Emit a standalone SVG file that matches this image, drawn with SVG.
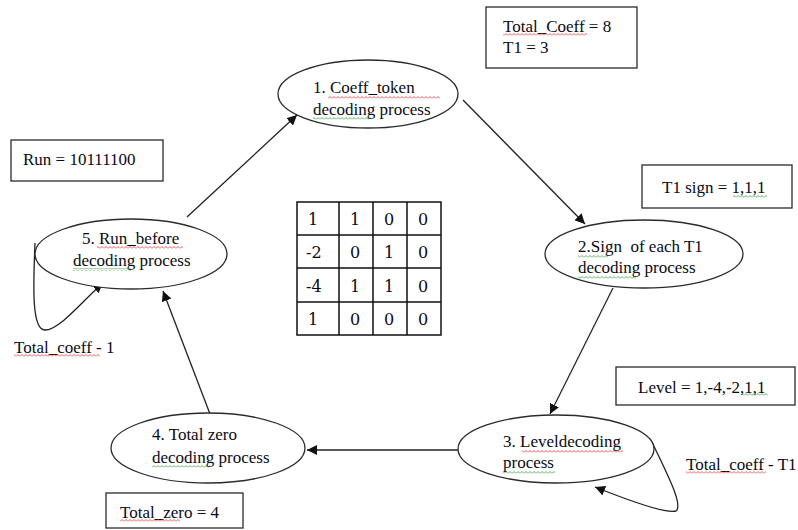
<svg xmlns="http://www.w3.org/2000/svg" width="798" height="530" viewBox="0 0 798 530">
  <style>
    .node { fill: #fff; stroke: #2b2b2b; stroke-width: 1.3; }
    .box { fill: #fff; stroke: #2b2b2b; stroke-width: 1.3; }
    .lbl { font-family: "Liberation Serif", "Times New Roman", serif; font-size: 17px; fill: #0a0a14; white-space: pre; }
    .cell { font-family: "DejaVu Serif", serif; font-size: 16px; fill: #0a0a14; }
    .grid { fill: none; stroke: #111; stroke-width: 1.5; }
    .edge { fill: none; stroke: #222; stroke-width: 1.3; }
  </style>
  <defs>
    <marker id="arrow" viewBox="0 0 10 10" refX="10" refY="5" markerWidth="10" markerHeight="10" markerUnits="userSpaceOnUse" orient="auto">
      <path d="M0,0 L10,5 L0,10 z" fill="#111"/>
    </marker>
    <!-- spell-check style wavy underlines -->
    <pattern id="wavyRed" patternUnits="userSpaceOnUse" width="4" height="3">
      <path d="M0,2.5 L2,0.5 L4,2.5" fill="none" stroke="#e03030" stroke-width="0.8"/>
    </pattern>
    <pattern id="wavyGreen" patternUnits="userSpaceOnUse" width="4" height="3">
      <path d="M0,2.5 L2,0.5 L4,2.5" fill="none" stroke="#2e9a3a" stroke-width="0.8"/>
    </pattern>
  </defs>
  <rect width="798" height="530" fill="#fff"/>

  <!-- connectors -->
  <g id="connectors">
    <line class="edge" x1="463" y1="100" x2="585" y2="224" marker-end="url(#arrow)"/>
    <line class="edge" x1="613" y1="288" x2="550" y2="414" marker-end="url(#arrow)"/>
    <line class="edge" x1="458" y1="450" x2="307" y2="450" marker-end="url(#arrow)"/>
    <line class="edge" x1="210" y1="414" x2="163" y2="291" marker-end="url(#arrow)"/>
    <line class="edge" x1="187" y1="217" x2="297" y2="115" marker-end="url(#arrow)"/>
    <path class="edge" d="M35,243 C33,290 32,330 45,330 C60,330 85,298 103,283" marker-end="url(#arrow)"/>
    <path class="edge" d="M652,442 C665,470 684,505 676,511 C665,514 620,497 595,487" marker-end="url(#arrow)"/>
  </g>

  <!-- process nodes -->
  <g id="node1">
    <ellipse class="node" cx="368" cy="94" rx="90" ry="34"/>
    <text class="lbl" x="313" y="93">1. Coeff_token</text>
    <text class="lbl" x="313" y="115">decoding process</text>
    <rect x="328" y="96" width="112" height="3" fill="url(#wavyRed)"/>
    <rect x="313" y="117" width="58" height="3" fill="url(#wavyGreen)"/>
  </g>
  <g id="node2">
    <ellipse class="node" cx="644" cy="254" rx="99" ry="34"/>
    <text class="lbl" x="578" y="252">2.Sign  of each T1</text>
    <text class="lbl" x="578" y="273">decoding process</text>
    <rect x="578" y="255" width="30" height="3" fill="url(#wavyGreen)"/>
    <rect x="578" y="276" width="58" height="3" fill="url(#wavyGreen)"/>
  </g>
  <g id="node3">
    <ellipse class="node" cx="556" cy="449" rx="98" ry="34"/>
    <text class="lbl" x="503" y="447">3. Leveldecoding</text>
    <text class="lbl" x="503" y="468">process</text>
    <rect x="522" y="450" width="101" height="3" fill="url(#wavyRed)"/>
    <rect x="503" y="471" width="52" height="3" fill="url(#wavyGreen)"/>
  </g>
  <g id="node4">
    <ellipse class="node" cx="208" cy="448" rx="97" ry="35"/>
    <text class="lbl" x="152" y="440">4. Total zero</text>
    <text class="lbl" x="152" y="463">decoding process</text>
    <rect x="152" y="465" width="58" height="3" fill="url(#wavyGreen)"/>
  </g>
  <g id="node5">
    <ellipse class="node" cx="131" cy="254" rx="96" ry="35"/>
    <text class="lbl" x="82" y="244">5. Run_before</text>
    <text class="lbl" x="73" y="266">decoding process</text>
    <rect x="97" y="246" width="86" height="3" fill="url(#wavyRed)"/>
    <rect x="73" y="268" width="58" height="3" fill="url(#wavyGreen)"/>
  </g>

  <!-- value boxes -->
  <g id="box-coeff">
    <rect class="box" x="486" y="7" width="151" height="61"/>
    <text class="lbl" x="503" y="32">Total_Coeff = 8</text>
    <text class="lbl" x="503" y="53">T1 = 3</text>
    <rect x="503" y="33" width="84" height="3" fill="url(#wavyRed)"/>
  </g>
  <g id="box-sign">
    <rect class="box" x="642" y="165" width="150" height="43"/>
    <text class="lbl" x="662" y="193">T1 sign = 1,1,1</text>
    <rect x="733" y="195" width="34" height="3" fill="url(#wavyGreen)"/>
  </g>
  <g id="box-level">
    <rect class="box" x="616" y="367" width="179" height="38"/>
    <text class="lbl" x="638" y="393">Level = 1,-4,-2,1,1</text>
    <rect x="742" y="393" width="26" height="3" fill="url(#wavyGreen)"/>
  </g>
  <g id="box-run">
    <rect class="box" x="11" y="140" width="152" height="41"/>
    <text class="lbl" x="23" y="165">Run = 10111100</text>
  </g>
  <g id="box-zero">
    <rect class="box" x="106" y="493" width="137" height="35"/>
    <text class="lbl" x="120" y="518">Total_zero = 4</text>
    <rect x="120" y="519" width="60" height="3" fill="url(#wavyRed)"/>
  </g>

  <!-- loop labels -->
  <g id="label-loop5">
    <text class="lbl" x="14" y="353">Total_coeff - 1</text>
    <rect x="14" y="354" width="86" height="3" fill="url(#wavyRed)"/>
  </g>
  <g id="label-loop3">
    <text class="lbl" x="686" y="470">Total_coeff - T1</text>
    <rect x="686" y="471" width="80" height="3" fill="url(#wavyRed)"/>
  </g>

  <!-- coefficient matrix -->
  <g id="matrix">
    <rect class="grid" x="297" y="202" width="144" height="133"/>
    <path class="grid" d="M339,202 V335 M373,202 V335 M407,202 V335 M297,235 H441 M297,268 H441 M297,302 H441"/>
    <text class="cell" x="308" y="225">1</text>
    <text class="cell" x="350" y="225">1</text>
    <text class="cell" x="384" y="225">0</text>
    <text class="cell" x="418" y="225">0</text>
    <text class="cell" x="306" y="258">-2</text>
    <text class="cell" x="350" y="258">0</text>
    <text class="cell" x="384" y="258">1</text>
    <text class="cell" x="418" y="258">0</text>
    <text class="cell" x="306" y="292">-4</text>
    <text class="cell" x="350" y="292">1</text>
    <text class="cell" x="384" y="292">1</text>
    <text class="cell" x="418" y="292">0</text>
    <text class="cell" x="308" y="325">1</text>
    <text class="cell" x="350" y="325">0</text>
    <text class="cell" x="384" y="325">0</text>
    <text class="cell" x="418" y="325">0</text>
  </g>
</svg>
